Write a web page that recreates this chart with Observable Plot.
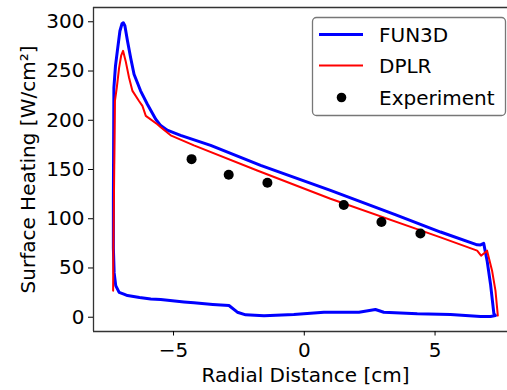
<!DOCTYPE html>
<html>
<head>
<meta charset="utf-8">
<script src="https://cdn.jsdelivr.net/npm/d3@7"></script>
<script src="https://cdn.jsdelivr.net/npm/@observablehq/plot@0.6"></script>
<style>
html, body { margin: 0; padding: 0; background: #ffffff; overflow: hidden; }
</style>
</head>
<body>
<div id="chart"></div>
<script>
// ---- Data ----
const fun3dX = [-6.9, -7.08, -7.21, -7.27, -7.30, -7.30, -7.29, -7.28, -7.22, -7.15, -7.05, -6.97, -6.92, -6.86, -6.76, -6.64, -6.51, -6.26, -6.0, -5.68, -5.49, -5.24, -5.0, -4.73, -3.58, -1.67, 1.0, 3.5, 5.21, 6.61, 6.74, 6.86, 6.99, 7.12, 7.25, 7.31, 7.12, 6.74, 5.59, 4.32, 3.04, 2.72, 2.09, 0.75, -0.4, -1.54, -2.24, -2.56, -2.88, -3.5, -4.22, -4.6, -5.49, -5.87, -6.3, -6.76, -6.9];
const fun3dY = [23.5, 25.3, 32.1, 45, 70, 120, 180, 233, 255, 270, 290.6, 298, 299, 296, 280.4, 263.5, 246.7, 229.9, 216.3, 201, 194.6, 190, 187.5, 184.7, 174.5, 154.2, 128.8, 104, 86.5, 73.5, 73.4, 75, 57.5, 33.8, 3.4, 1.7, 0.7, 0.7, 2.7, 3.4, 5.1, 7.8, 5.1, 5.1, 2.7, 1.4, 2.4, 5.1, 11.9, 13, 14.6, 15.5, 17.9, 18.6, 20, 22, 23.5];

const dplrX = [-7.31, -7.30, -7.28, -7.24, -7.17, -7.08, -7.0, -6.93, -6.83, -6.7, -6.57, -6.32, -6.19, -6.06, -5.62, -5.49, -5.11, -4.22, -1.8, 1.0, 5.21, 6.61, 6.76, 6.99, 7.18, 7.31, 7.40];
const dplrY = [27, 70, 118, 219.6, 233, 253.4, 266, 270.5, 260, 243.2, 229.8, 219.6, 214.6, 204.4, 196, 193, 184.7, 174.5, 149, 120.3, 81.1, 67.6, 62.5, 67.6, 47.3, 27, 1.7];

const expX = [-4.31, -2.89, -1.41, 1.51, 2.95, 4.44];
const expY = [160.5, 144.6, 136.5, 113.9, 96.7, 85.1];

const seriesNames = ["FUN3D", "DPLR", "Experiment"];
const seriesColors = ["#0000ff", "#ff0000", "#000000"];

const xTicks = [-5, 0, 5];
const yTicks = [0, 50, 100, 150, 200, 250, 300];
const xDomain = [-8.06, 7.77];
const yDomain = [-14.5, 314.5];
const xLabel = "Radial Distance [cm]";
const yLabel = "Surface Heating [W/cm²]";

// ---- Build tables ----
const fun3d = fun3dX.map((x, i) => ({x, y: fun3dY[i]}));
const dplr = dplrX.map((x, i) => ({x, y: dplrY[i]}));
const expt = expX.map((x, i) => ({x, y: expY[i]}));

const FONT = "DejaVu Sans";
const spine = {stroke: "#333", strokeWidth: 1.3};

const svg = Plot.plot({
  width: 507,
  height: 390,
  marginLeft: 93,
  marginRight: 0,
  marginTop: 7,
  marginBottom: 59,
  style: {fontFamily: FONT, fontSize: "20px", background: "#ffffff", color: "#000"},
  x: {domain: xDomain},
  y: {domain: yDomain},
  marks: [
    Plot.line(fun3d, {x: "x", y: "y", stroke: seriesColors[0], strokeWidth: 3, curve: "linear"}),
    Plot.line(dplr, {x: "x", y: "y", stroke: seriesColors[1], strokeWidth: 2, curve: "linear"}),
    Plot.dot(expt, {x: "x", y: "y", r: 5, fill: seriesColors[2], stroke: "none"}),
    Plot.ruleX([xDomain[0]], spine),
    Plot.ruleY(yDomain, spine),
    Plot.axisX({ticks: xTicks, tickSize: 4.5, tickPadding: 7, label: null, fontSize: 20,
      tickFormat: d => d < 0 ? "\u2212" + Math.abs(d) : String(d)}),
    Plot.axisY({ticks: yTicks, tickSize: 5, tickPadding: 4, label: null, fontSize: 20}),
    Plot.text([xLabel], {text: d => d, frameAnchor: "bottom", textAnchor: "middle", dx: 5, dy: 50, lineAnchor: "bottom", fontSize: 20, fill: "#000"}),
    Plot.text([yLabel], {text: d => d, frameAnchor: "left", textAnchor: "middle", rotate: -90, dx: -59, lineAnchor: "bottom", fontSize: 20, fill: "#000"})
  ]
});

// ---- Legend ----
const lg = d3.select(svg).append("g")
  .attr("font-family", FONT)
  .attr("font-size", 20)
  .attr("text-anchor", "start")
  .attr("fill", "#000");
lg.append("rect")
  .attr("x", 312.5).attr("y", 17.5)
  .attr("width", 193).attr("height", 98)
  .attr("rx", 4)
  .attr("fill", "#ffffff").attr("fill-opacity", 0.85)
  .attr("stroke", "#777").attr("stroke-width", 1.3);
const rowY = [34.5, 65.5, 97.5];
seriesNames.forEach((name, i) => {
  if (i < 2) {
    lg.append("line")
      .attr("x1", 319).attr("x2", 363)
      .attr("y1", rowY[i]).attr("y2", rowY[i])
      .attr("stroke", seriesColors[i])
      .attr("stroke-width", i === 0 ? 3 : 2);
  } else {
    lg.append("circle")
      .attr("cx", 341.5).attr("cy", rowY[i]).attr("r", 4.8)
      .attr("fill", seriesColors[i]);
  }
  lg.append("text")
    .attr("x", 379).attr("y", rowY[i])
    .attr("dy", "0.36em")
    .attr("text-anchor", "start")
    .text(name);
});

document.getElementById("chart").appendChild(svg);
</script>
</body>
</html>
